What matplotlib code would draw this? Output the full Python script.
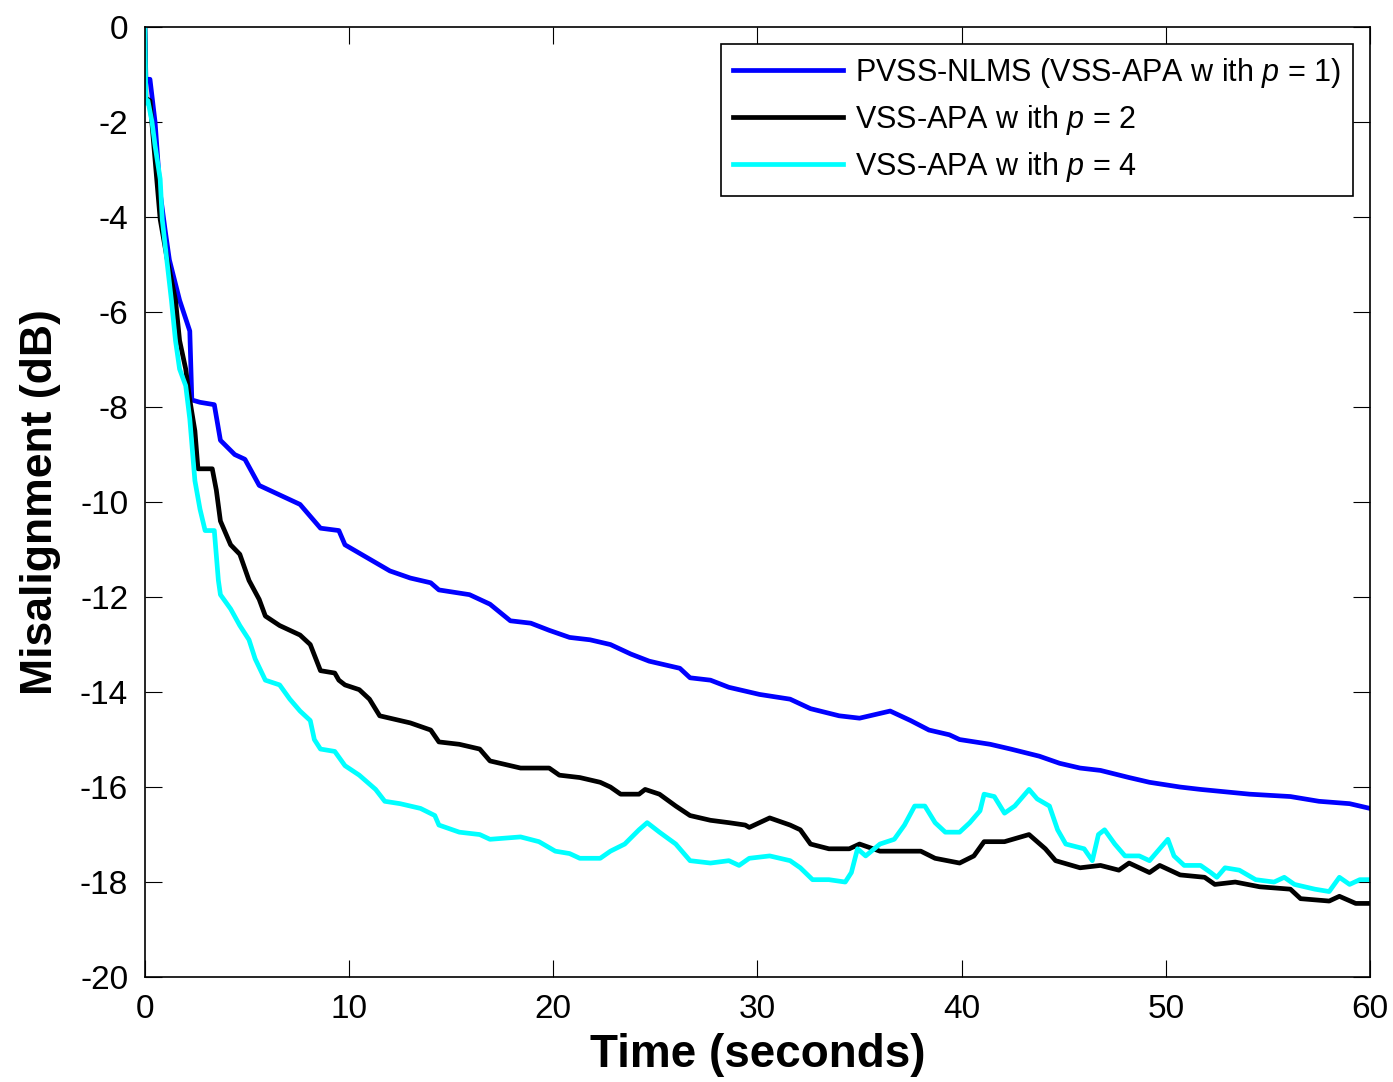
import numpy as np
import matplotlib
matplotlib.use("Agg")
import matplotlib.pyplot as plt

# values (time in seconds, misalignment in dB)
t_blue = [0, 0.05, 0.25, 0.5, 0.75, 1.0, 1.2, 1.7, 2.2, 2.3, 2.7, 3.4, 3.7, 4.4, 4.9, 5.6,
          6.6, 7.6, 8.3, 8.6, 9.5, 9.8, 11, 12, 13, 14, 14.4, 15.9, 16.9, 17.9, 18.9, 19.8,
          20.8, 21.8, 22.8, 23.8, 24.7, 26.2, 26.7, 27.7, 28.6, 30.1, 31.6, 32.6, 34, 35,
          36, 36.5, 37.5, 38.4, 39.4, 39.9, 41.4, 42.4, 43.8, 44.8, 45.8, 46.8, 48.2, 49.2,
          50.7, 51.7, 54.1, 56.1, 57.5, 59, 60]
m_blue = [0, -1.1, -1.1, -2.0, -3.5, -4.3, -4.9, -5.75, -6.4, -7.85, -7.9, -7.95, -8.7, -9.0,
          -9.1, -9.65, -9.85, -10.05, -10.4, -10.55, -10.6, -10.9, -11.2, -11.45, -11.6, -11.7,
          -11.85, -11.95, -12.15, -12.5, -12.55, -12.7, -12.85, -12.9, -13.0, -13.2, -13.35,
          -13.5, -13.7, -13.75, -13.9, -14.05, -14.15, -14.35, -14.5, -14.55, -14.45, -14.4,
          -14.6, -14.8, -14.9, -15.0, -15.1, -15.2, -15.35, -15.5, -15.6, -15.65, -15.8, -15.9,
          -16.0, -16.05, -16.15, -16.2, -16.3, -16.35, -16.45]

t_black = [0, 0.05, 0.25, 0.5, 0.75, 1.1, 1.5, 1.7, 2.0, 2.2, 2.45, 2.6, 3.3, 3.5, 3.7, 4.2,
           4.65, 5.1, 5.6, 5.9, 6.6, 7.6, 8.1, 8.6, 9.3, 9.5, 9.8, 10.5, 11, 11.5, 12, 13, 14,
           14.4, 15.4, 16.4, 16.9, 17.9, 18.4, 19.8, 20.3, 21.3, 22.3, 22.8, 23.3, 24.2, 24.5,
           25.2, 26, 26.7, 27.7, 28.6, 29.4, 29.6, 30.1, 30.6, 31.6, 32.1, 32.6, 33.5, 34.5,
           35, 36, 38, 38.7, 39.9, 40.6, 41.1, 42.1, 43.3, 44.1, 44.6, 45.8, 46.8, 47.7, 48.2,
           49.2, 49.7, 50.7, 51.9, 52.4, 53.4, 54.6, 56.1, 56.6, 58, 58.5, 59.3, 60]
m_black = [0, -1.5, -1.55, -2.8, -4.05, -4.9, -5.75, -6.6, -7.2, -7.85, -8.5, -9.3, -9.3,
           -9.75, -10.4, -10.9, -11.1, -11.65, -12.05, -12.4, -12.6, -12.8, -13.0, -13.55,
           -13.6, -13.75, -13.85, -13.95, -14.15, -14.5, -14.55, -14.65, -14.8, -15.05, -15.1,
           -15.2, -15.45, -15.55, -15.6, -15.6, -15.75, -15.8, -15.9, -16.0, -16.15, -16.15,
           -16.05, -16.15, -16.4, -16.6, -16.7, -16.75, -16.8, -16.85, -16.75, -16.65, -16.8,
           -16.9, -17.2, -17.3, -17.3, -17.2, -17.35, -17.35, -17.5, -17.6, -17.45, -17.15,
           -17.15, -17.0, -17.3, -17.55, -17.7, -17.65, -17.75, -17.6, -17.8, -17.65, -17.85,
           -17.9, -18.05, -18.0, -18.1, -18.15, -18.35, -18.4, -18.3, -18.45, -18.45]

t_cyan = [0, 0.05, 0.15, 0.35, 0.5, 0.75, 0.85, 1.1, 1.3, 1.5, 1.7, 2.0, 2.2, 2.45, 2.7, 2.95,
          3.4, 3.6, 3.7, 4.2, 4.65, 5.1, 5.4, 5.9, 6.6, 7.1, 7.6, 8.1, 8.3, 8.6, 9.3, 9.8, 10.5,
          11.3, 11.75, 12.5, 13.5, 14.2, 14.4, 15.4, 16.4, 16.9, 18.4, 19.3, 20.1, 20.8, 21.3,
          22.3, 22.8, 23.5, 24.2, 24.6, 25.2, 26, 26.7, 27.7, 28.6, 29.1, 29.6, 30.6, 31.6,
          32.1, 32.7, 33.5, 34.3, 34.6, 34.9, 35.3, 36, 36.7, 37.2, 37.7, 38.2, 38.7, 39.2,
          39.9, 40.4, 40.9, 41.1, 41.6, 42.1, 42.6, 43.3, 43.7, 44.3, 44.7, 45.1, 46, 46.4,
          46.7, 47, 47.5, 48, 48.7, 49.2, 49.7, 50.1, 50.4, 50.9, 51.7, 52.2, 52.5, 52.9, 53.6,
          54.4, 55.3, 55.8, 56.3, 57.3, 58, 58.5, 59, 59.5, 60]
m_cyan = [0, -1.6, -1.55, -2.0, -2.5, -3.2, -4.05, -5.0, -5.75, -6.6, -7.2, -7.55, -8.25,
          -9.55, -10.15, -10.6, -10.6, -11.65, -11.95, -12.25, -12.6, -12.9, -13.3, -13.75,
          -13.85, -14.15, -14.4, -14.6, -15.0, -15.2, -15.25, -15.55, -15.75, -16.05, -16.3,
          -16.35, -16.45, -16.6, -16.8, -16.95, -17.0, -17.1, -17.05, -17.15, -17.35, -17.4,
          -17.5, -17.5, -17.35, -17.2, -16.9, -16.75, -16.95, -17.2, -17.55, -17.6, -17.55,
          -17.65, -17.5, -17.45, -17.55, -17.7, -17.95, -17.95, -18.0, -17.8, -17.3, -17.45,
          -17.2, -17.1, -16.8, -16.4, -16.4, -16.75, -16.95, -16.95, -16.75, -16.5, -16.15,
          -16.2, -16.55, -16.4, -16.05, -16.25, -16.4, -16.9, -17.2, -17.3, -17.55, -17.0,
          -16.9, -17.2, -17.45, -17.45, -17.55, -17.3, -17.1, -17.45, -17.65, -17.65, -17.8,
          -17.9, -17.7, -17.75, -17.95, -18.0, -17.9, -18.05, -18.15, -18.2, -17.9, -18.05,
          -17.95, -17.95]

labels = ['PVSS-NLMS (VSS-APA w ith $p$ = 1)',
          'VSS-APA w ith $p$ = 2',
          'VSS-APA w ith $p$ = 4']

plt.rcParams['font.family'] = ['Liberation Sans', 'DejaVu Sans']
plt.rcParams['mathtext.fontset'] = 'custom'
plt.rcParams['mathtext.it'] = 'Liberation Sans:italic'
plt.rcParams['mathtext.rm'] = 'Liberation Sans'
plt.rcParams['axes.unicode_minus'] = False

fig = plt.figure(figsize=(13.93, 10.82), dpi=100)
ax = fig.add_axes([0.104, 0.097, 0.8795, 0.878])

ax.plot(t_blue, m_blue, color='#0000ff', lw=3.4, label=labels[0])
ax.plot(t_black, m_black, color='black', lw=3.4, label=labels[1])
ax.plot(t_cyan, m_cyan, color='#00ffff', lw=3.4, label=labels[2])

ax.set_xlim(0, 60)
ax.set_ylim(-20, 0)
ax.set_xticks(np.arange(0, 61, 10))
ax.set_yticks(np.arange(-20, 1, 2))
ax.tick_params(direction='in', length=12, width=0.8, top=True, right=True,
               labelsize=24, pad=12)
for s in ax.spines.values():
    s.set_linewidth(1.2)

ax.set_xlabel('Time (seconds)', fontsize=33, fontweight='bold', labelpad=6)
ax.set_ylabel('Misalignment (dB)', fontsize=32, fontweight='bold', labelpad=14)

leg = ax.legend(loc='upper right', fontsize=22, handlelength=3.6, handletextpad=0.4,
                borderpad=0.4, labelspacing=0.42, fancybox=False, framealpha=1,
                edgecolor='black', borderaxespad=0.55)
leg.get_frame().set_linewidth(1.2)

fig.savefig('out.png', dpi=100)
